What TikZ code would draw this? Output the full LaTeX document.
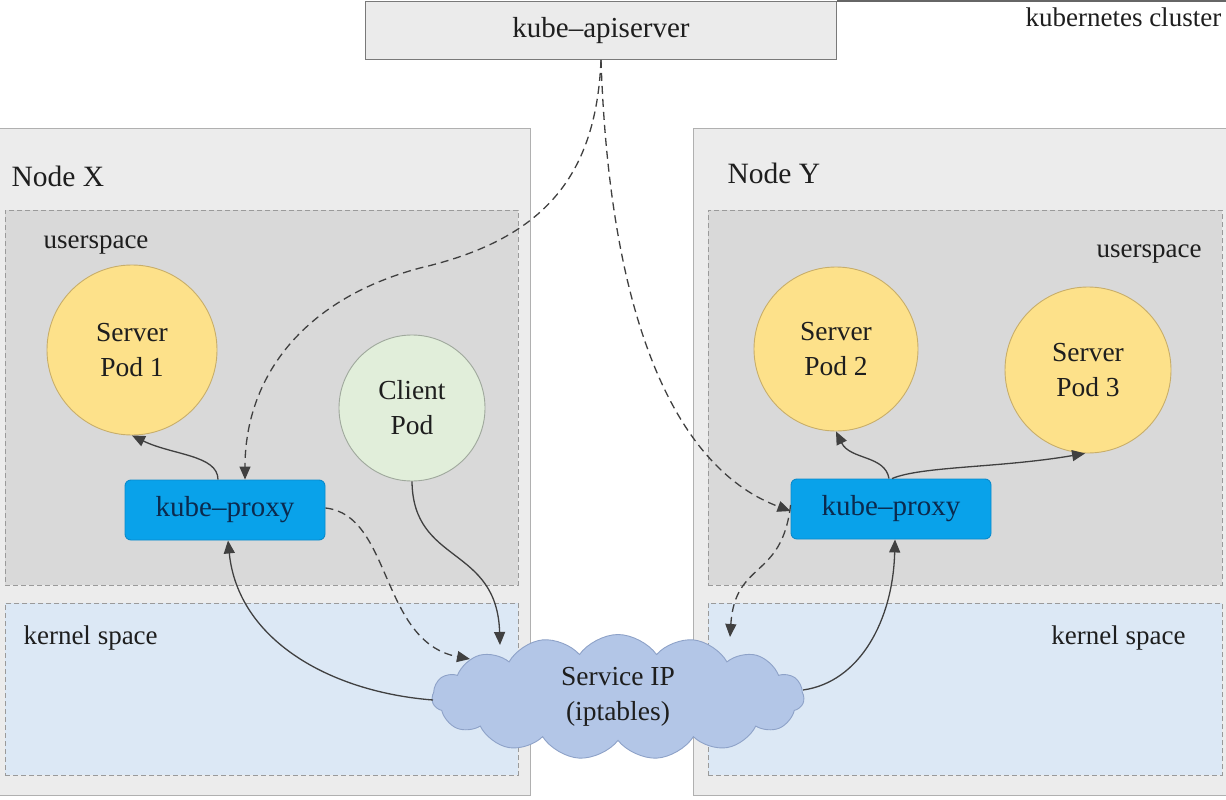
\documentclass[tikz,border=0pt]{standalone}
\usepackage{fontspec}
\setmainfont{Liberation Serif}
\usetikzlibrary{arrows.meta,shapes.symbols}
\definecolor{nodefill}{HTML}{ECECEC}
\definecolor{nodeline}{HTML}{B0B0B0}
\definecolor{userfill}{HTML}{D9D9D9}
\definecolor{kernfill}{HTML}{DCE8F5}
\definecolor{dashline}{HTML}{9A9A9A}
\definecolor{apifill}{HTML}{EBEBEB}
\definecolor{podfill}{HTML}{FDE18A}
\definecolor{podline}{HTML}{C8AE6A}
\definecolor{clientfill}{HTML}{E1EEDA}
\definecolor{clientline}{HTML}{9FA89C}
\definecolor{proxyfill}{HTML}{09A2EA}
\definecolor{proxyline}{HTML}{0A8ACB}
\definecolor{proxytext}{HTML}{0B2A4E}
\definecolor{cloudfill}{HTML}{B3C6E7}
\definecolor{cloudline}{HTML}{8EA2C8}
\definecolor{arrowcol}{HTML}{404040}
\definecolor{txt}{HTML}{1E1E1E}
\begin{document}
\begin{tikzpicture}[x=1pt,y=-1pt,
  every node/.style={text=txt, font=\fontsize{27.5}{35}\selectfont},
  hostbox/.style={draw=nodeline, fill=nodefill, line width=1pt, anchor=north west, inner sep=0pt},
  userbox/.style={draw=dashline, fill=userfill, dashed, dash pattern=on 5pt off 3pt, line width=0.9pt, anchor=north west, inner sep=0pt},
  kernbox/.style={draw=dashline, fill=kernfill, dashed, dash pattern=on 5pt off 3pt, line width=0.9pt, anchor=north west, inner sep=0pt},
  serverpod/.style={circle, draw=podline, fill=podfill, line width=0.9pt, align=center, inner sep=0pt},
  clientpod/.style={circle, draw=clientline, fill=clientfill, line width=0.9pt, align=center, inner sep=0pt},
  proxybox/.style={rounded corners=6pt, draw=proxyline, fill=proxyfill, line width=0.9pt, minimum width=200, minimum height=60, text=proxytext, font=\fontsize{29}{33}\selectfont},
  solidarrow/.style={draw=arrowcol, line width=1.3pt, -{Triangle[length=13pt,width=11pt]}},
  dashedarrow/.style={solidarrow, dash pattern=on 8pt off 5pt},
  biglabel/.style={font=\fontsize{29.5}{33}\selectfont, anchor=west},
  smalllabel/.style={font=\fontsize{27}{31}\selectfont}
]
\clip (0,0) rectangle (1226,800);
\fill[white] (0,0) rectangle (1226,800);

% kubernetes cluster border and label
\node[draw=arrowcol!70, fill=apifill, line width=1pt, minimum width=471, minimum height=58, anchor=north west, font=\fontsize{29}{33}\selectfont] (api) at (365,1) {kube--apiserver};
\draw[arrowcol!80, line width=1.2pt] (api.north east) -- ++(420,0) coordinate (clusterend);
\node[smalllabel, anchor=west] (cluster) at (1022,17) {kubernetes cluster};

% hosts
\node[hostbox, minimum width=531, minimum height=667] (nodex) at (-1,128) {};
\node[hostbox, minimum width=540, minimum height=667] (nodey) at (693,128) {};
\node[userbox, minimum width=513, minimum height=375] (userx) at (5,210) {};
\node[kernbox, minimum width=513, minimum height=172] (kernx) at (5,603) {};
\node[userbox, minimum width=514, minimum height=375] (usery) at (708,210) {};
\node[kernbox, minimum width=514, minimum height=172] (kerny) at (708,603) {};

\node[biglabel] (nxlabel) at (8,176) {Node X};
\node[biglabel] (nylabel) at (724,173) {Node Y};
\node[smalllabel, anchor=west] (uxlabel) at (40,245) {userspace};
\node[smalllabel, anchor=east] (uylabel) at (1205,254) {userspace};
\node[smalllabel, anchor=west] (kxlabel) at (20,638) {kernel space};
\node[smalllabel, anchor=east] (kylabel) at (1189,638) {kernel space};

% pods
\node[serverpod, minimum size=170] (sp1) at (132,350) {Server\\Pod 1};
\node[clientpod, minimum size=146] (cp) at (412,408) {Client\\Pod};
\node[serverpod, minimum size=164] (sp2) at (836,349) {Server\\Pod 2};
\node[serverpod, minimum size=166] (sp3) at (1088,370) {Server\\Pod 3};

% kube-proxies
\node[proxybox] (kpx) at (225,510) {kube--proxy};
\node[proxybox] (kpy) at (891,509) {kube--proxy};

% service cloud
\node[cloud, cloud puffs=15, cloud puff arc=110, aspect=3, draw=cloudline, fill=cloudfill, line width=0.9pt, minimum width=372, minimum height=125, align=center, inner sep=0pt] (svc) at (618,697) {Service IP\\(iptables)};

% connectors
\draw[dashedarrow] (api.south) .. controls (596,180) and (540,240) .. (420,268) .. controls (300,300) and (245,380) .. ([xshift=20]kpx.north);
\draw[dashedarrow] (api.south) .. controls (610,330) and (680,470) .. ([yshift=-2]kpy.west);
\draw[solidarrow] ([xshift=-7]kpx.north) .. controls (218,455) and (172,455) .. (sp1.south);
\draw[dashedarrow] ([yshift=2]kpx.east) .. controls (392,515) and (380,642) .. ([shift={(-148,-38)}]svc.center);
\draw[solidarrow] (cp.south) .. controls (413,565) and (497,545) .. ([shift={(-118,-52)}]svc.center);
\draw[solidarrow] ([shift={(-185,3)}]svc.center) .. controls (330,692) and (238,640) .. ([xshift=3]kpx.south);
\draw[solidarrow] ([xshift=-2]kpy.north) .. controls (885,455) and (850,460) .. (sp2.south);
\draw[solidarrow] ([xshift=1]kpy.north) .. controls (922,466) and (1000,468) .. (sp3.-92);
\draw[dashedarrow] ([yshift=4]kpy.west) .. controls (782,580) and (735,560) .. ([shift={(112,-60)}]svc.center);
\draw[solidarrow] ([shift={(185,-7)}]svc.center) .. controls (860,682) and (893,620) .. ([xshift=4]kpy.south);
\end{tikzpicture}
\end{document}
